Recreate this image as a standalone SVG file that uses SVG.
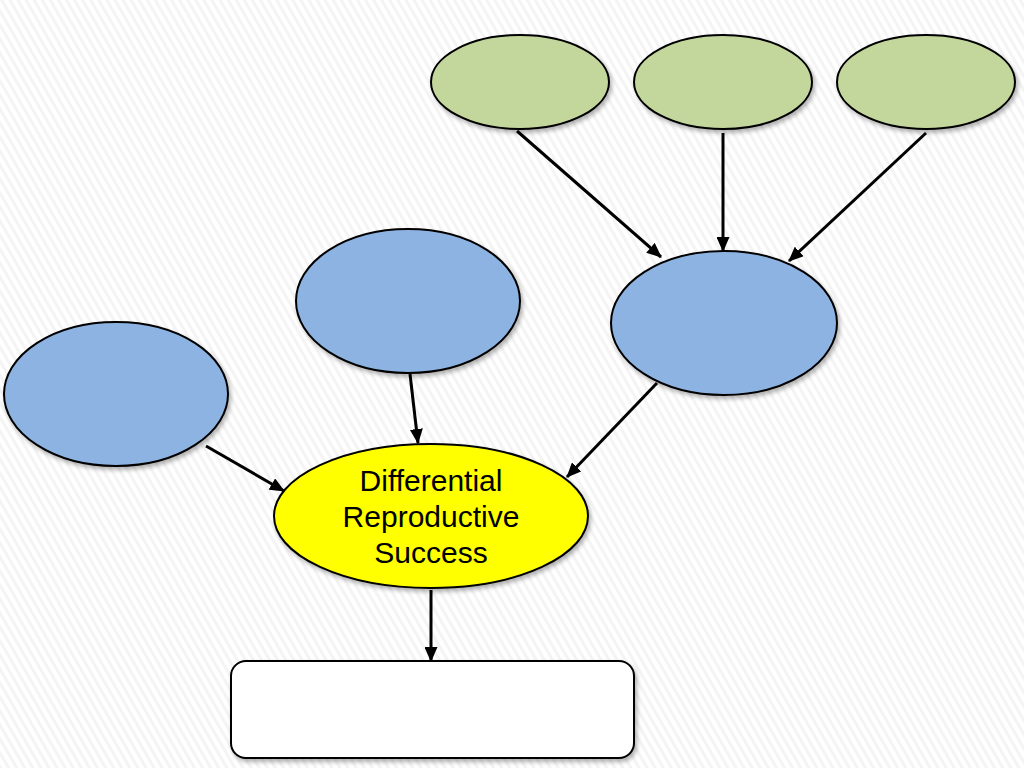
<svg xmlns="http://www.w3.org/2000/svg" width="1024" height="768" viewBox="0 0 1024 768">
<defs>
<pattern id="stripes" width="7" height="7" patternUnits="userSpaceOnUse" patternTransform="rotate(-30)">
<rect width="7" height="7" fill="#ffffff"/>
<rect width="3" height="7" fill="#f4f4f4"/>
</pattern>
<filter id="sh" x="-10%" y="-10%" width="130%" height="130%">
<feDropShadow dx="2" dy="3" stdDeviation="2" flood-color="#000" flood-opacity="0.3"/>
</filter>
<marker id="ah" markerWidth="15" markerHeight="13" refX="14" refY="6.5" orient="auto" markerUnits="userSpaceOnUse" viewBox="0 0 15 13">
<path d="M0,0 L15,6.5 L0,13 Z" fill="#000"/>
</marker>
</defs>
<style>
.g{fill:#c3d69b;stroke:#000;stroke-width:2;filter:url(#sh)}
.b{fill:#8db3e2;stroke:#000;stroke-width:2;filter:url(#sh)}
.y{fill:#ffff00;stroke:#000;stroke-width:2;filter:url(#sh)}
.r{fill:#ffffff;stroke:#000;stroke-width:2;filter:url(#sh)}
.c{stroke:#000;stroke-width:3;fill:none;marker-end:url(#ah)}
.t{font-family:"Liberation Sans",Arial,sans-serif;font-size:30px;fill:#000;text-anchor:middle}
</style>
<rect width="1024" height="768" fill="url(#stripes)"/>
<g id="green1"><ellipse class="g" cx="520" cy="82" rx="89" ry="47"/></g>
<g id="green2"><ellipse class="g" cx="723" cy="82" rx="89" ry="47"/></g>
<g id="green3"><ellipse class="g" cx="926" cy="82" rx="89" ry="47"/></g>
<g id="blueRight"><ellipse class="b" cx="724" cy="323" rx="113" ry="72"/></g>
<g id="blueMiddle"><ellipse class="b" cx="408" cy="301" rx="112" ry="72"/></g>
<g id="blueLeft"><ellipse class="b" cx="116" cy="394" rx="112" ry="72"/></g>
<g id="drs"><ellipse class="y" cx="431" cy="516" rx="157" ry="72"/>
<text class="t" x="431" y="491">Differential</text>
<text class="t" x="431" y="527">Reproductive</text>
<text class="t" x="431" y="563">Success</text>
</g>
<g id="outcome"><rect class="r" x="231" y="661" width="403" height="97" rx="15"/></g>
<g id="connectors">
<line class="c" x1="517" y1="131" x2="661" y2="257"/>
<line class="c" x1="723" y1="133" x2="723" y2="251"/>
<line class="c" x1="926" y1="133" x2="789" y2="261"/>
<line class="c" x1="657" y1="383" x2="567" y2="477"/>
<line class="c" x1="410" y1="374" x2="418" y2="443"/>
<line class="c" x1="206" y1="446" x2="284" y2="491"/>
<line class="c" x1="431" y1="590" x2="431" y2="661"/>
</g>
</svg>
